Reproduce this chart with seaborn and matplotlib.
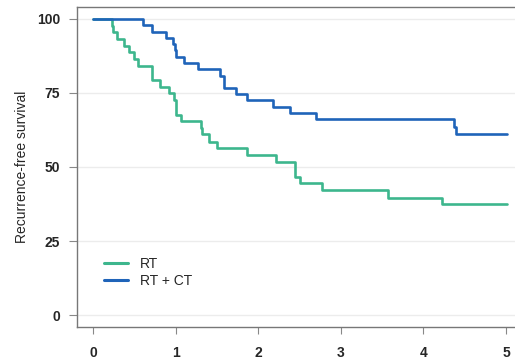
import matplotlib
matplotlib.use("Agg")
import matplotlib.pyplot as plt
import seaborn as sns
import pandas as pd
from matplotlib.lines import Line2D

# Kaplan-Meier step estimates (time in years, survival in %)
rt_time = [0.0, 0.23, 0.24, 0.29, 0.37, 0.44, 0.50, 0.55, 0.71, 0.72, 0.81,
           0.92, 0.98, 1.00, 1.06, 1.31, 1.32, 1.40, 1.50, 1.86, 2.22, 2.44,
           2.45, 2.50, 2.77, 3.57, 4.23, 5.01]
rt_surv = [100.0, 97.8, 95.6, 93.4, 91.0, 88.9, 86.5, 84.2, 81.9, 79.4, 77.1,
           74.9, 72.6, 67.6, 65.5, 63.2, 61.1, 58.5, 56.3, 53.9, 51.6, 49.2,
           46.7, 44.5, 42.2, 39.6, 37.4, 37.4]

rtct_time = [0.0, 0.60, 0.71, 0.88, 0.97, 0.99, 1.01, 1.10, 1.27, 1.54, 1.59,
             1.73, 1.86, 2.18, 2.38, 2.70, 4.37, 4.39, 5.01]
rtct_surv = [100.0, 97.9, 95.7, 93.6, 91.5, 89.4, 87.3, 85.3, 83.1, 80.9, 76.6,
             74.6, 72.6, 70.4, 68.1, 66.2, 63.6, 61.1, 61.1]

groups = ["RT", "RT + CT"]
colors = ["#3db68d", "#1f64b9"]
y_ticks = [0, 25, 50, 75, 100]
x_ticks = [0, 1, 2, 3, 4, 5]

df = pd.concat([
    pd.DataFrame({"time": rt_time, "surv": rt_surv, "arm": groups[0]}),
    pd.DataFrame({"time": rtct_time, "surv": rtct_surv, "arm": groups[1]}),
], ignore_index=True)

sns.set_style("white")
plt.rcParams["font.family"] = ["Liberation Sans", "DejaVu Sans"]

fig = plt.figure(figsize=(5.15, 3.60), dpi=100)
ax = fig.add_axes([77 / 515, 1 - 327 / 360, 438 / 515, 320 / 360])

for y in y_ticks:
    ax.axhline(y, color="#ececec", lw=1.0, zorder=0)

sns.lineplot(data=df, x="time", y="surv", hue="arm", hue_order=groups,
             palette=colors, estimator=None, sort=False,
             drawstyle="steps-post", lw=1.9, legend=False, ax=ax)

ax.set_xlim(-0.194, 5.109)
ax.set_ylim(-4.05, 104.05)
ax.set_xticks(x_ticks)
ax.set_yticks(y_ticks)
ax.set_xticklabels([str(v) for v in x_ticks], fontweight="bold", fontsize=10)
ax.set_yticklabels([str(v) for v in y_ticks], fontweight="bold", fontsize=10)
ax.tick_params(axis="x", length=5, width=0.8, color="#888888", pad=9,
               direction="out", bottom=True)
ax.tick_params(axis="y", length=6, width=0.8, color="#888888", pad=6,
               direction="out", left=True)
ax.set_xlabel("")
ax.set_ylabel("Recurrence-free survival", fontsize=10, labelpad=6)

for side in ["left", "bottom", "top"]:
    ax.spines[side].set_visible(True)
    ax.spines[side].set_color("#777777")
    ax.spines[side].set_linewidth(1.0)
ax.spines["right"].set_visible(False)

handles = [Line2D([0], [0], color=c, lw=2.2) for c in colors]
ax.legend(handles, groups, loc="upper left", bbox_to_anchor=(0.062, 0.22),
          frameon=False, fontsize=10, handlelength=1.7, handletextpad=0.85,
          labelspacing=0.25, borderpad=0, borderaxespad=0)

fig.savefig("out.png", dpi=100)
